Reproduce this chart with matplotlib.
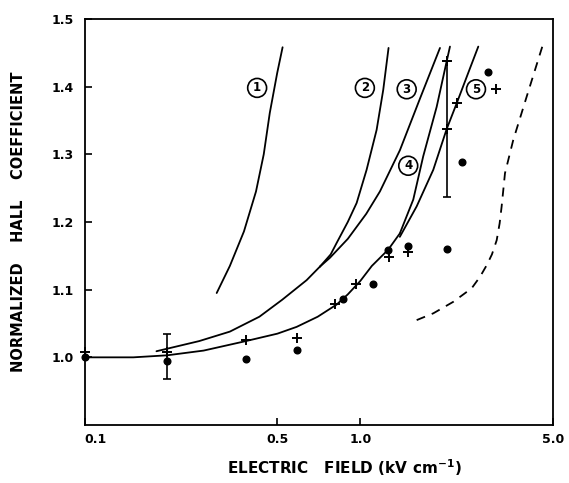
import numpy as np
import matplotlib
matplotlib.use('Agg')
from matplotlib import pyplot as plt
from matplotlib.ticker import NullLocator

# measured points
dots_x = [0.1, 0.199, 0.384, 0.587, 0.866, 1.113, 1.261, 1.483, 2.055, 2.33, 2.91]
dots_y = [1.0, 0.994, 0.997, 1.011, 1.086, 1.108, 1.159, 1.165, 1.160, 1.289, 1.422]
plus_x = [0.1, 0.199, 0.384, 0.587, 0.81, 0.963, 1.272, 1.483, 2.055, 2.055, 2.234, 3.10]
plus_y = [1.008, 1.008, 1.026, 1.029, 1.079, 1.109, 1.148, 1.156, 1.437, 1.337, 1.375, 1.396]
err_x = [0.199, 2.055]
err_y = [1.001, 1.337]
err_size = [0.033, 0.1]

# calculated curves
fit_x = [0.1, 0.15, 0.199, 0.27, 0.384, 0.5, 0.587, 0.7, 0.82, 0.9, 1.0, 1.1, 1.261, 1.39]
fit_y = [1.0, 1.0, 1.003, 1.01, 1.024, 1.035, 1.045, 1.06, 1.078, 1.093, 1.113, 1.135, 1.159, 1.183]
c4_x = [1.39, 1.555, 1.69, 1.891, 2.055, 2.113]
c4_y = [1.183, 1.233, 1.297, 1.370, 1.437, 1.459]
c5_x = [1.39, 1.6, 1.838, 2.055, 2.234, 2.45, 2.677]
c5_y = [1.178, 1.223, 1.277, 1.337, 1.375, 1.418, 1.459]
c23_x = [0.182, 0.26, 0.336, 0.43, 0.52, 0.638, 0.713]
c23_y = [1.009, 1.024, 1.038, 1.06, 1.085, 1.114, 1.134]
c2_x = [0.713, 0.78, 0.82, 0.9, 0.969, 1.053, 1.145, 1.21, 1.265]
c2_y = [1.134, 1.152, 1.169, 1.2, 1.228, 1.277, 1.336, 1.395, 1.457]
c3_x = [0.713, 0.775, 0.9, 1.05, 1.177, 1.391, 1.644, 1.944]
c3_y = [1.134, 1.147, 1.175, 1.212, 1.245, 1.306, 1.382, 1.457]
c1_x = [0.301, 0.336, 0.378, 0.418, 0.446, 0.469, 0.499, 0.522]
c1_y = [1.095, 1.135, 1.186, 1.245, 1.300, 1.361, 1.420, 1.458]
dash_x = [1.6, 1.838, 2.172, 2.533, 2.716, 2.871, 3.0, 3.122, 3.2, 3.254, 3.346, 3.585, 4.01, 4.61]
dash_y = [1.055, 1.065, 1.082, 1.102, 1.119, 1.136, 1.152, 1.173, 1.198, 1.223, 1.272, 1.321, 1.385, 1.464]

labels = ['1', '2', '3', '4', '5']
label_x = [0.422, 1.038, 1.472, 1.491, 2.626]
label_y = [1.398, 1.398, 1.396, 1.283, 1.396]

xticks = [0.1, 0.5, 1.0, 5.0]
xticklabels = ['0.1', '0.5', '1.0', '5.0']
yticks = [1.0, 1.1, 1.2, 1.3, 1.4, 1.5]
yticklabels = ['1.0', '1.1', '1.2', '1.3', '1.4', '1.5']

plt.rcParams['font.family'] = ['DejaVu Sans']
plt.rcParams['font.weight'] = 'bold'

fig = plt.figure(figsize=(5.69, 4.83), dpi=100)
ax = fig.add_axes([0.149, 0.120, 0.823, 0.841])

lw = 1.3
for xs, ys in [(fit_x, fit_y), (c4_x, c4_y), (c5_x, c5_y), (c23_x, c23_y),
               (c2_x, c2_y), (c3_x, c3_y), (c1_x, c1_y)]:
    ax.plot(xs, ys, color='black', lw=lw, solid_capstyle='round', solid_joinstyle='round')
ax.plot(dash_x, dash_y, color='black', lw=lw, linestyle=(0, (5, 4)))

ax.errorbar(err_x, err_y, yerr=err_size, fmt='none', ecolor='black',
            elinewidth=1.2, capsize=3.2, capthick=1.2)
ax.plot(dots_x, dots_y, 'o', color='black', ms=4.8, clip_on=False)
ax.plot(plus_x, plus_y, '+', color='black', ms=7, mew=1.4, clip_on=False)

for t, x, y in zip(labels, label_x, label_y):
    ax.text(x, y, t, ha='center', va='center', fontsize=8.5, fontweight='bold',
            bbox=dict(boxstyle='circle,pad=0.25', fc='white', ec='black', lw=1.2))

ax.set_xscale('log')
ax.set_xlim(0.1, 5.0)
ax.set_ylim(0.9, 1.5)
ax.set_xticks(xticks)
ax.set_xticklabels(xticklabels)
ax.xaxis.set_minor_locator(NullLocator())
ax.set_yticks(yticks)
ax.set_yticklabels(yticklabels)
ax.tick_params(direction='in', length=5, width=1.2, labelsize=9)
ax.tick_params(axis='x', pad=6)
ax.tick_params(axis='y', pad=8)
ax.get_xticklabels()[0].set_horizontalalignment('left')
for s in ax.spines.values():
    s.set_linewidth(1.3)

fig.text(0.032, 0.54, 'NORMALIZED    HALL    COEFFICIENT', rotation=90,
         ha='center', va='center', fontsize=10.5, fontweight='bold')
fig.text(0.606, 0.031, 'ELECTRIC   FIELD (kV cm$^{-1}$)', ha='center', va='center',
         fontsize=11, fontweight='bold')

plt.savefig('out.png', dpi=100)
